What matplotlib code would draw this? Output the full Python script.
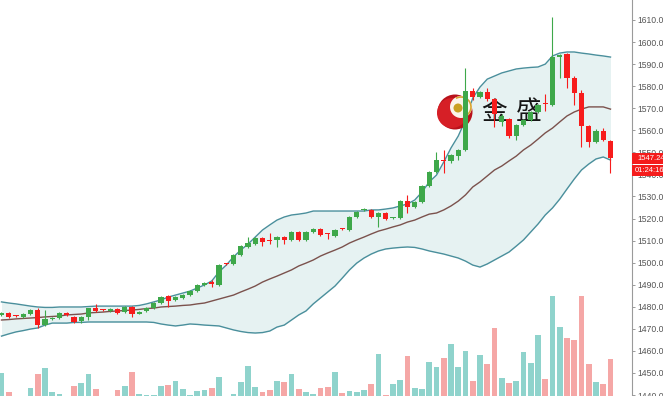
import matplotlib
matplotlib.use("Agg")
import matplotlib.pyplot as plt
import matplotlib.transforms as mtransforms
from matplotlib.patches import Circle, Rectangle, Arc
import numpy as np

# ---------------- data ----------------
opens = [1476.3, 1477.2, 1475.9, 1475.4, 1476.7, 1478.5, 1471.7, 1474.4, 1474.9, 1477.2,
         1475.4, 1473.5, 1475.4, 1479.4, 1478.6, 1478.1, 1479.0, 1477.6, 1479.9, 1476.9,
         1478.1, 1479.4, 1481.7, 1484.9, 1483.1, 1484.0, 1485.3, 1487.1, 1489.9, 1491.2,
         1489.9, 1499.6, 1499.4, 1503.5, 1507.1, 1508.4, 1511.2, 1509.9, 1510.3, 1511.6,
         1510.3, 1513.9, 1510.3, 1513.9, 1515.2, 1513.1, 1512.1, 1515.3, 1514.8, 1520.7,
         1523.8, 1523.9, 1520.7, 1522.5, 1520.1, 1520.2, 1527.9, 1525.2, 1527.5, 1534.7,
         1541.1, 1546.3, 1546.1, 1548.3, 1551.1, 1577.8, 1575.1, 1577.3, 1574.2, 1563.8,
         1565.2, 1557.4, 1562.4, 1564.7, 1568.3, 1572.1, 1571.5, 1593.2, 1594.6, 1583.7,
         1576.9, 1561.9, 1554.7, 1559.7, 1555.1]
closes = [1477.2, 1475.4, 1475.7, 1476.8, 1478.5, 1471.7, 1474.5, 1474.6, 1477.2, 1476.3,
          1473.1, 1475.4, 1479.4, 1478.1, 1478.4, 1479.0, 1477.2, 1479.9, 1476.7, 1477.6,
          1479.4, 1481.7, 1484.4, 1482.6, 1484.4, 1485.3, 1487.1, 1489.9, 1490.8, 1490.3,
          1498.9, 1499.3, 1503.5, 1507.5, 1508.9, 1511.2, 1509.4, 1509.7, 1511.6, 1510.3,
          1513.9, 1510.3, 1513.9, 1515.2, 1512.5, 1512.9, 1514.8, 1515.1, 1520.7, 1523.0,
          1524.0, 1520.7, 1522.5, 1519.8, 1520.3, 1527.9, 1525.2, 1527.5, 1534.7, 1541.1,
          1546.5, 1546.0, 1548.8, 1551.1, 1577.8, 1575.1, 1577.3, 1574.2, 1567.5, 1566.5,
          1557.4, 1562.4, 1564.7, 1568.3, 1571.5, 1571.7, 1593.2, 1594.1, 1583.7, 1576.9,
          1561.9, 1554.7, 1559.7, 1555.6, 1547.24]
highs = [1477.6, 1477.6, 1476.4, 1477.2, 1479.0, 1479.4, 1478.5, 1475.2, 1477.6, 1477.6,
         1475.6, 1475.8, 1479.6, 1481.3, 1479.2, 1479.4, 1479.4, 1480.2, 1480.3, 1478.0,
         1479.8, 1482.0, 1484.8, 1485.2, 1484.7, 1485.6, 1487.4, 1490.3, 1491.2, 1492.1,
         1499.4, 1500.0, 1503.8, 1507.8, 1511.6, 1511.5, 1511.6, 1513.4, 1511.9, 1512.0,
         1514.2, 1514.3, 1514.3, 1515.6, 1515.5, 1513.4, 1515.2, 1515.8, 1521.0, 1523.4,
         1524.6, 1524.3, 1522.9, 1522.9, 1520.8, 1528.2, 1530.7, 1527.8, 1535.0, 1541.5,
         1550.2, 1551.1, 1549.2, 1551.5, 1588.2, 1579.2, 1577.7, 1579.2, 1574.6, 1567.5,
         1565.6, 1562.8, 1565.1, 1568.7, 1571.9, 1576.6, 1611.3, 1594.5, 1595.0, 1584.4,
         1578.1, 1562.3, 1560.6, 1561.0, 1555.6]
lows = [1475.8, 1475.0, 1475.2, 1475.0, 1476.3, 1470.4, 1471.3, 1474.0, 1474.5, 1476.0,
        1472.6, 1472.6, 1474.0, 1477.8, 1477.9, 1477.7, 1476.8, 1477.2, 1475.4, 1476.5,
        1477.7, 1479.0, 1481.3, 1479.9, 1482.8, 1483.6, 1484.9, 1486.7, 1489.5, 1488.9,
        1489.5, 1499.0, 1499.0, 1503.2, 1506.8, 1508.0, 1507.5, 1508.4, 1507.1, 1508.4,
        1509.9, 1509.9, 1510.0, 1513.5, 1512.1, 1510.7, 1511.7, 1514.6, 1514.4, 1520.3,
        1523.2, 1520.3, 1516.2, 1519.4, 1519.6, 1519.8, 1522.5, 1524.8, 1527.1, 1534.3,
        1540.7, 1540.6, 1545.0, 1546.5, 1550.7, 1573.8, 1574.7, 1573.3, 1561.4, 1562.0,
        1556.5, 1555.6, 1561.9, 1564.2, 1567.8, 1568.7, 1571.0, 1583.7, 1579.2, 1571.5,
        1552.4, 1552.4, 1554.3, 1555.0, 1540.6]
volumes = [27, 8, 2, 2, 12, 26, 32, 8, 6, 2,
           14, 17, 26, 11, 2, 2, 10, 14, 28, 6,
           5, 5, 14, 15, 19, 11, 5, 9, 10, 12,
           23, 2, 6, 18, 34, 13, 8, 10, 19, 18,
           26, 11, 8, 6, 12, 13, 28, 7, 9, 8,
           10, 16, 46, 5, 16, 20, 44, 12, 11, 38,
           33, 42, 56, 33, 49, 19, 45, 36, 72, 22,
           17, 19, 48, 37, 65, 21, 104, 73, 62, 60,
           104, 36, 18, 16, 41]
boll_upper = [1482.2, 1481.7, 1481.3, 1480.8, 1480.3, 1479.9, 1479.7, 1479.7, 1479.9, 1479.9,
              1479.9, 1479.9, 1480.1, 1480.3, 1480.3, 1480.3, 1480.3, 1480.3, 1480.3, 1480.6,
              1481.3, 1482.2, 1483.1, 1484.4, 1485.3, 1486.2, 1487.1, 1488.5, 1489.9, 1491.7,
              1495.8, 1498.9, 1502.6, 1505.7, 1508.4, 1511.6, 1514.8, 1517.1, 1519.3, 1520.7,
              1521.6, 1522.0, 1522.5, 1523.4, 1523.4, 1523.4, 1523.4, 1523.4, 1523.4, 1523.4,
              1523.4, 1523.9, 1523.9, 1524.3, 1524.8, 1525.7, 1526.6, 1528.4, 1532.0, 1536.6,
              1539.7, 1545.6, 1552.0, 1557.4, 1564.7, 1574.6, 1579.6, 1583.2, 1584.6, 1586.0,
              1586.9, 1587.8, 1588.2, 1588.5, 1588.7, 1590.0, 1593.7, 1595.0, 1595.5, 1595.5,
              1595.0, 1594.6, 1594.1, 1593.7, 1593.2]
boll_mid = [1474.0, 1474.2, 1474.5, 1474.7, 1474.9, 1475.1, 1475.4, 1475.6, 1475.8, 1476.3,
            1476.5, 1476.7, 1477.2, 1477.4, 1477.6, 1477.9, 1478.1, 1478.3, 1478.5, 1478.8,
            1479.2, 1479.4, 1479.9, 1480.1, 1480.3, 1480.6, 1480.8, 1481.3, 1481.7, 1482.6,
            1483.5, 1484.4, 1485.3, 1486.7, 1488.0, 1489.4, 1491.2, 1492.6, 1493.9, 1495.3,
            1496.7, 1498.5, 1499.8, 1501.2, 1503.0, 1504.4, 1505.7, 1507.1, 1508.9, 1510.3,
            1511.6, 1513.0, 1514.3, 1515.2, 1516.2, 1517.1, 1518.4, 1519.3, 1520.7, 1522.0,
            1522.5, 1523.9, 1525.7, 1527.9, 1530.7, 1534.3, 1536.6, 1539.3, 1542.0, 1543.8,
            1546.1, 1548.3, 1551.1, 1553.3, 1556.0, 1558.8, 1561.0, 1563.8, 1566.5, 1568.3,
            1569.6, 1570.6, 1570.6, 1570.6, 1569.6]
boll_lower = [1466.7, 1467.7, 1468.6, 1469.2, 1469.9, 1470.4, 1471.7, 1472.6, 1472.6, 1472.6,
              1472.9, 1472.9, 1473.1, 1473.1, 1473.1, 1473.1, 1473.1, 1473.1, 1473.1, 1473.1,
              1473.1, 1472.9, 1472.2, 1471.7, 1471.3, 1471.7, 1472.2, 1472.0, 1471.7, 1471.5,
              1471.3, 1470.4, 1469.5, 1468.8, 1468.3, 1468.1, 1468.3, 1469.0, 1470.8, 1471.7,
              1474.0, 1476.3, 1478.1, 1481.3, 1484.0, 1486.7, 1489.4, 1493.0, 1496.7, 1499.8,
              1502.1, 1503.9, 1505.3, 1506.2, 1506.6, 1506.9, 1507.1, 1506.9, 1506.2, 1505.3,
              1504.6, 1503.9, 1503.0, 1502.1, 1500.7, 1498.9, 1498.0, 1499.4, 1501.2, 1503.0,
              1504.8, 1507.5, 1510.3, 1513.9, 1517.5, 1521.6, 1524.8, 1528.8, 1533.4, 1537.9,
              1542.0, 1544.7, 1547.0, 1547.9, 1546.5]
price_ticks = [1440, 1450, 1460, 1470, 1480, 1490, 1500, 1510, 1520, 1530,
               1540, 1550, 1560, 1570, 1580, 1590, 1600, 1610]
last_price_label = "1547.24"
countdown_label = "01:24:16"
logo_chars = ["金", "盛"]

# ---------------- style ----------------
W, H = 663, 396
UP = "#3ea84a"
DOWN = "#f71c1c"
VOL_UP = "#8fd3cc"
VOL_DOWN = "#f5a7a6"
BAND_LINE = "#4a8f9c"
MID_LINE = "#7b524d"
BAND_FILL = "#e6f2f2"

fig = plt.figure(figsize=(W / 100, H / 100), dpi=100, facecolor="white")
plot_w = 632 / W
x = np.arange(len(closes))
xlim = (-1.5 / 7.25, (632 - 1.5) / 7.25)

# volume panel (behind)
axv = fig.add_axes([0, -4 / H, plot_w, 1])
axv.set_xlim(*xlim)
axv.set_ylim(0, H)
axv.axis("off")
vcols = [VOL_UP if c >= o else VOL_DOWN for o, c in zip(opens, closes)]
axv.bar(x, volumes, width=0.78, color=vcols, linewidth=0)

# price panel
ax = fig.add_axes([0, 0, plot_w, 1])
ax.patch.set_alpha(0)
ymin = 1440 - 1 / 2.206
ymax = 1610 + 20 / 2.206
ax.fill_between(x, boll_lower, boll_upper, color=BAND_FILL, linewidth=0, zorder=1)
ax.plot(x, boll_upper, color=BAND_LINE, lw=1.0, zorder=2)
ax.plot(x, boll_lower, color=BAND_LINE, lw=1.0, zorder=2)
ax.plot(x, boll_mid, color=MID_LINE, lw=1.0, zorder=2)

# logo (pixel coordinates, under the candles)
T = mtransforms.Affine2D().scale(1 / W, -1 / H).translate(0, 1) + fig.transFigure
ax.add_patch(Circle((455, 112), 17.5, color="#b8121b", transform=T, zorder=2.2, lw=0))
ax.add_patch(Circle((452, 113), 15, color="#d61f26", transform=T, zorder=2.25, lw=0))
ax.add_patch(Circle((461, 107), 11, color="#fbf4ea", transform=T, zorder=2.3, lw=0))
ax.add_patch(Arc((461, 107), 20, 20, theta1=-120, theta2=60, color="#d8a431", lw=1.2,
                 transform=T, zorder=2.35))
ax.add_patch(Circle((458, 108), 4.5, color="#caa022", transform=T, zorder=2.4, lw=0))
ax.text(494, 113, logo_chars[0], transform=T, fontsize=18.5, color="#151515",
        family=["Noto Sans CJK SC", "DejaVu Sans"], ha="center", va="center", zorder=2.5)
ax.text(529, 112, logo_chars[1], transform=T, fontsize=18.5, color="#151515",
        family=["Noto Sans CJK SC", "DejaVu Sans"], ha="center", va="center", zorder=2.5)

# candles
for i in range(len(closes)):
    o, c, h, l = opens[i], closes[i], highs[i], lows[i]
    col = UP if c >= o else DOWN
    ax.vlines(i, l, h, color=col, lw=0.8, zorder=3)
    bottom = min(o, c)
    height = max(abs(c - o), 0.5)
    ax.bar(i, height, bottom=bottom, width=0.72, color=col, linewidth=0, zorder=4)

ax.set_xlim(*xlim)
ax.set_ylim(ymin, ymax)
for s in ["top", "left", "bottom"]:
    ax.spines[s].set_visible(False)
ax.spines["right"].set_color("#9a9a9a")
ax.spines["right"].set_linewidth(0.8)
ax.set_xticks([])
ax.yaxis.tick_right()
ax.set_yticks(price_ticks)
ax.set_yticklabels([f"{t:.2f}" for t in price_ticks])
ax.tick_params(axis="y", length=2.5, width=0.7, color="#9a9a9a", pad=1.5,
               labelsize=6.2, labelcolor="#555555")
for lab in ax.get_yticklabels():
    lab.set_family("Liberation Sans")

# last price / countdown boxes
axo = fig.add_axes([0, 0, 1, 1], zorder=10)
axo.set_xlim(0, W)
axo.set_ylim(H, 0)
axo.axis("off")
axo.patch.set_alpha(0)
axo.add_patch(Rectangle((632, 152.5), 31, 11, color="#f41c1c", lw=0))
axo.add_patch(Rectangle((632, 164.5), 31, 11, color="#f41c1c", lw=0))
axo.text(637.5, 158.3, last_price_label, color="white", fontsize=5.5,
         family="Liberation Sans", va="center", ha="left")
axo.text(634.5, 170.3, countdown_label, color="white", fontsize=5.5,
         family="Liberation Sans", va="center", ha="left")

fig.savefig("out.png", dpi=100, facecolor="white")
